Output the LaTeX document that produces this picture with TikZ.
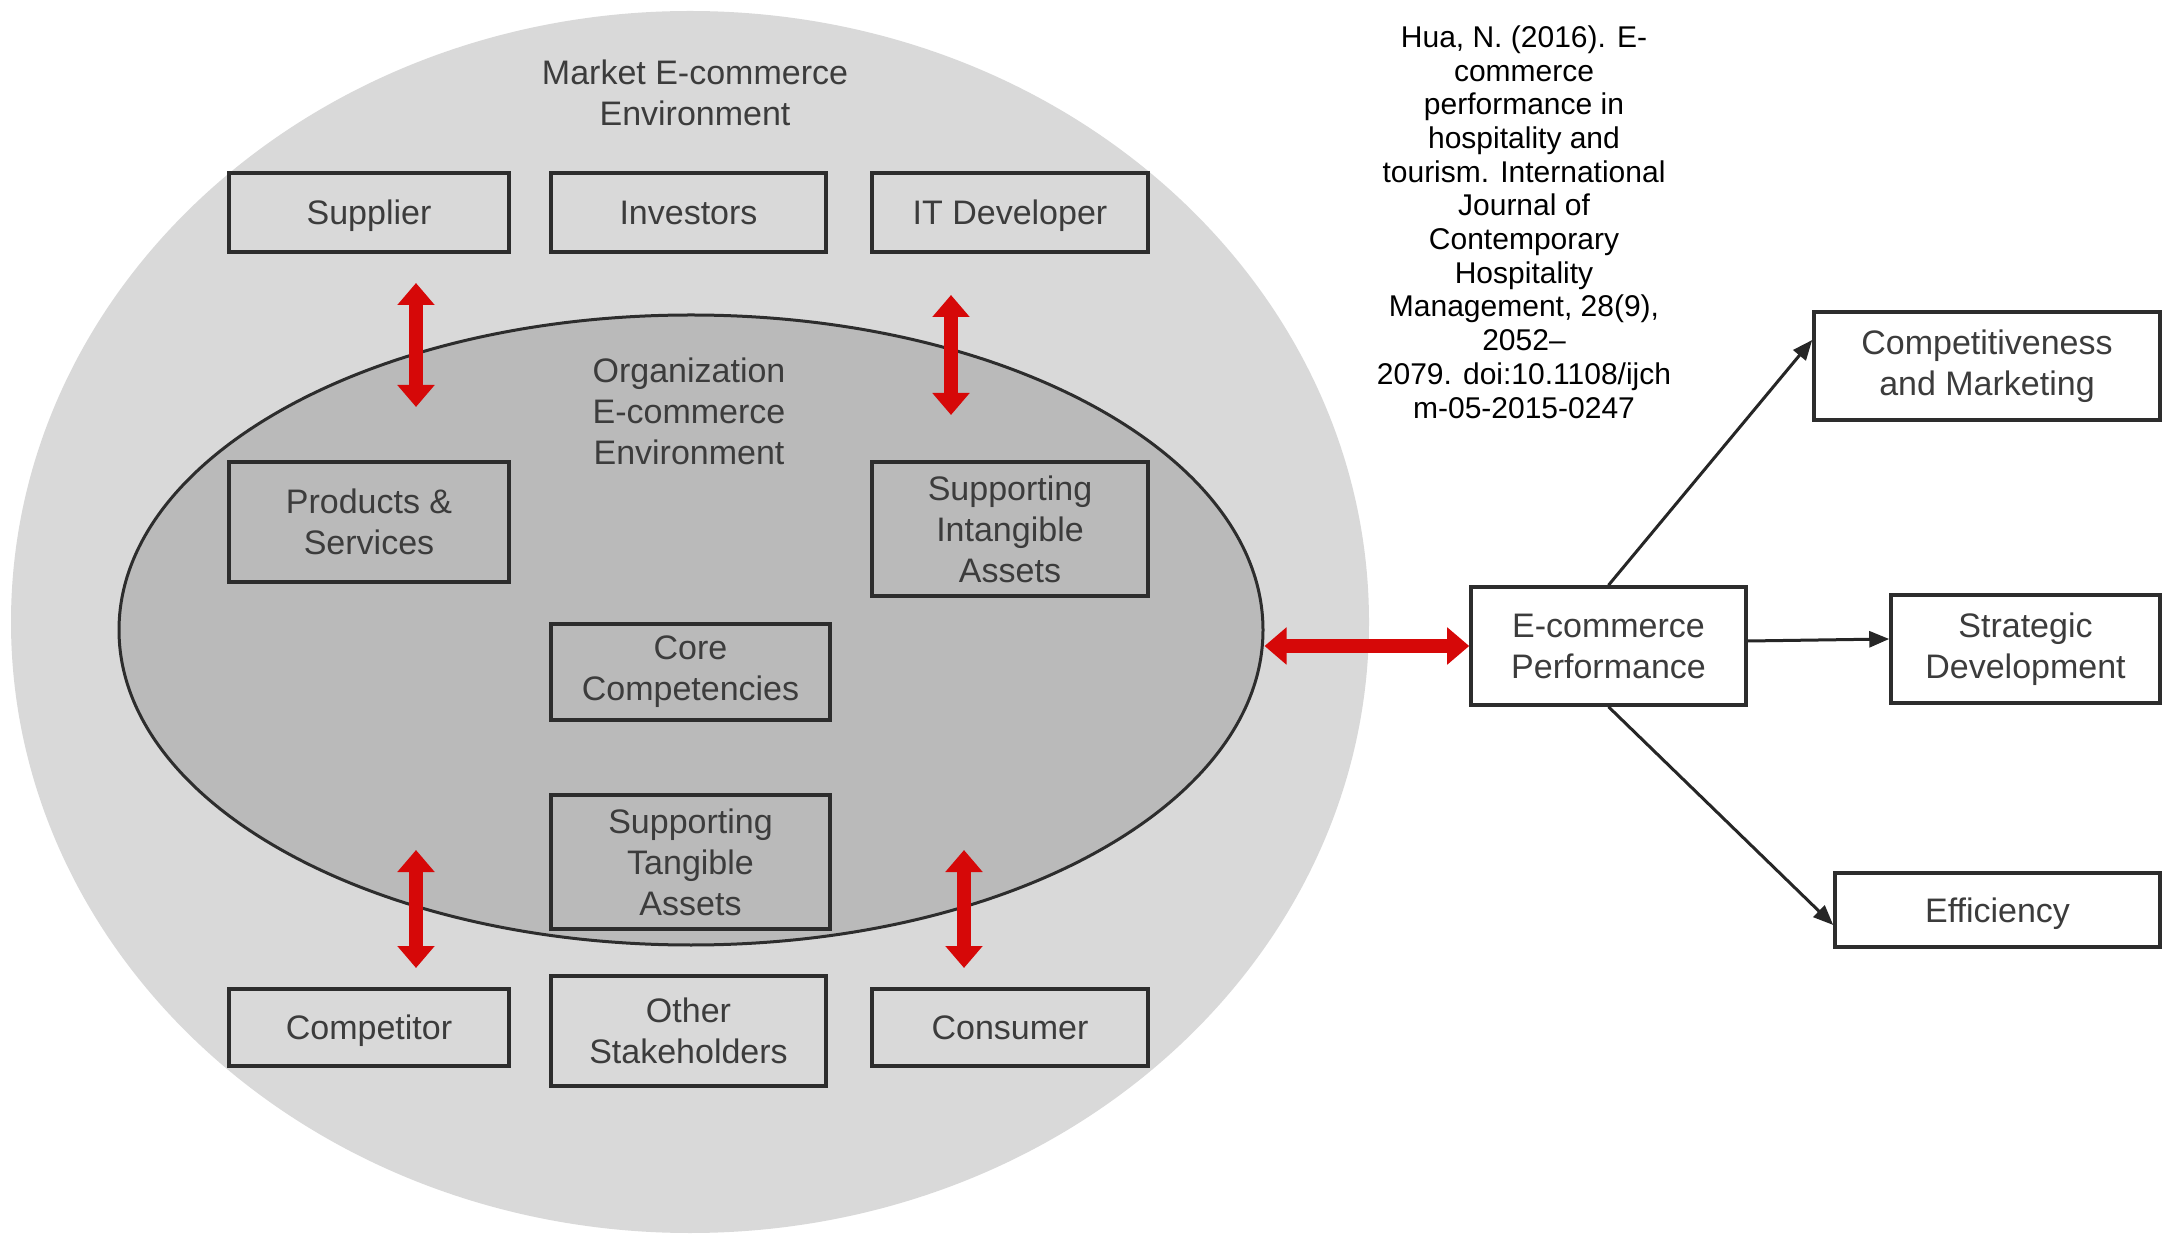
\documentclass[tikz,border=0pt]{standalone}
\usepackage{fontspec}
\setmainfont{Liberation Sans}
\usetikzlibrary{shapes.geometric,arrows.meta,calc}
\definecolor{outerg}{RGB}{217,217,217}
\definecolor{innerg}{RGB}{186,186,186}
\definecolor{boxline}{RGB}{45,45,45}
\definecolor{txt}{RGB}{60,60,60}
\definecolor{redarr}{RGB}{214,8,8}
\begin{document}
\begin{tikzpicture}[x=0.5pt,y=-0.5pt,
  box/.style={draw=boxline, line width=1.8pt, rectangle, align=center, inner sep=0pt, text=txt, font=\fontsize{17}{20.5}\selectfont},
  one/.style={text height=12.3pt, text depth=0pt},
  lbl/.style={align=center, inner sep=0pt, text=txt, font=\fontsize{17}{20.5}\selectfont},
  redarrow/.style={draw=redarr, line width=7pt, {Triangle[width=18pt,length=11pt]}-{Triangle[width=18pt,length=11pt]}},
  blackarrow/.style={draw=black!85, line width=1.5pt, -{Triangle[width=8pt,length=10pt]}}]
\useasboundingbox[fill=white] (0,0) rectangle (2163,1234);
% environments
\node[ellipse, fill=outerg, minimum width=679pt, minimum height=611pt, inner sep=0pt] (market) at (690,622) {};
\node[ellipse, fill=innerg, draw=boxline, line width=1.5pt, minimum width=572pt, minimum height=315pt, inner sep=0pt] (org) at (691,630) {};
\node[lbl] (mlabel) at (695,92.5) {Market E-commerce\\Environment};
\node[lbl] (olabel) at (689,411) {Organization\\E-commerce\\Environment};
% boxes
\node[box, one, minimum width=140pt, minimum height=39.5pt] (sup) at (369,212.5) {Supplier};
\node[box, one, minimum width=137.5pt, minimum height=39.5pt] (inv) at (688.5,212.5) {Investors};
\node[box, one, minimum width=138pt, minimum height=39.5pt] (itd) at (1010,212.5) {IT Developer};
\node[box, minimum width=140pt, minimum height=60pt] (prod) at (369,522) {Products \&\\Services};
\node[box, minimum width=138pt, minimum height=67pt] (intang) at (1010,529) {Supporting\\Intangible\\Assets};
\node[box, minimum width=139.5pt, minimum height=48pt] (core) at (690.5,672) {Core\\Competencies};
\node[box, minimum width=139.5pt, minimum height=67pt] (tang) at (690.5,862) {Supporting\\Tangible\\Assets};
\node[box, one, minimum width=140pt, minimum height=38.5pt] (compet) at (369,1027.5) {Competitor};
\node[box, minimum width=137.5pt, minimum height=55pt] (other) at (688.5,1031) {Other\\Stakeholders};
\node[box, one, minimum width=138pt, minimum height=38.5pt] (cons) at (1010,1027.5) {Consumer};
% right side
\node[box, minimum width=137.5pt, minimum height=59pt] (perf) at (1608.5,646) {E-commerce\\Performance};
\node[box, minimum width=173pt, minimum height=54pt] (cm) at (1987,366) {Competitiveness\\and Marketing};
\node[box, minimum width=134.5pt, minimum height=54pt] (strat) at (2025.5,649) {Strategic\\Development};
\node[box, one, minimum width=162.5pt, minimum height=37pt] (eff) at (1997.5,910) {Efficiency};
% red arrows
\coordinate (r1a) at (416,283); \coordinate (r1b) at (416,407);
\coordinate (r2a) at (951,295); \coordinate (r2b) at (951,415);
\coordinate (r3a) at (416,850); \coordinate (r3b) at (416,968);
\coordinate (r4a) at (964,850); \coordinate (r4b) at (964,968);
\draw[redarrow] (r1a) -- (r1b);
\draw[redarrow] (r2a) -- (r2b);
\draw[redarrow] (r3a) -- (r3b);
\draw[redarrow] (r4a) -- (r4b);
\draw[redarrow] (org.east |- perf.west) -- (perf.west);
% black arrows
\draw[blackarrow] (perf.north) -- ([yshift=13pt]cm.west);
\draw[blackarrow] ([yshift=2.5pt]perf.east) -- ([yshift=5pt]strat.west);
\draw[blackarrow] (perf.south) -- ([yshift=-7.5pt]eff.west);
% citation
\node[align=center, inner sep=0pt, font=\fontsize{15}{16.85}\selectfont] (cite) at (1524,222) {Hua, N. (2016). E-\\commerce\\performance in\\hospitality and\\tourism. International\\Journal of\\Contemporary\\Hospitality\\Management, 28(9),\\2052–\\2079. doi:10.1108/ijch\\m-05-2015-0247};
\end{tikzpicture}
\end{document}
